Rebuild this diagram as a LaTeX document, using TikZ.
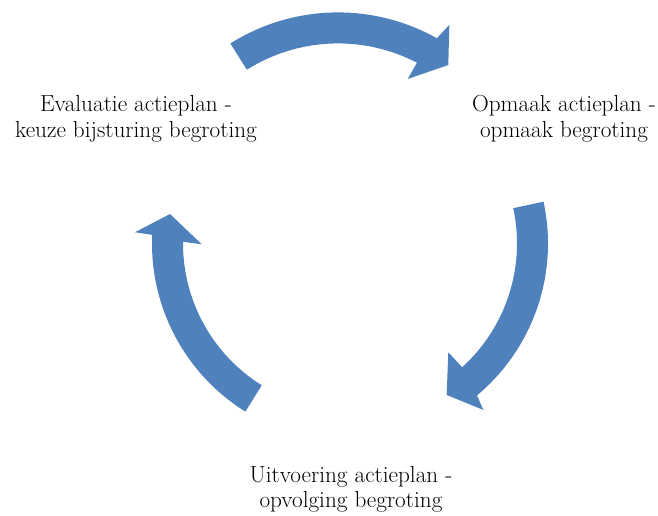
\documentclass[tikz,border=0pt]{standalone}
\usetikzlibrary{calc}
\definecolor{arrowblue}{RGB}{79,129,189}
\begin{document}
\begin{tikzpicture}[x=1pt,y=1pt,
  cyclearrow/.style={fill=arrowblue, draw=none},
  cycletext/.style={align=center, anchor=base, inner sep=0pt, font=\fontsize{23.2}{25.5}\selectfont}]
\useasboundingbox (0,0) rectangle (658,515);
\coordinate (Ct) at (338,300.6);
\coordinate (Cs) at (350,271.5);
% top arrow
\fill[cyclearrow] ($(Ct)+(122.2:202)$) arc[start angle=122.2,end angle=60.7,radius=202]
  -- ($(Ct)+(59.56:219.7)$) -- ($(Ct)+(53.56:185.7)$) -- ($(Ct)+(62.76:152.3)$)
  -- ($(Ct)+(62.5:171)$) arc[start angle=62.5,end angle=122.2,radius=171] -- cycle;
% right arrow
\fill[cyclearrow] ($(Cs)+(12.2:198)$) arc[start angle=12.2,end angle=-50.1,radius=198]
  -- ($(Cs)+(-51.3:213.3)$) -- ($(Cs)+(-57.45:179.7)$) -- ($(Cs)+(-47.9:146.6)$)
  -- ($(Cs)+(-47.8:167)$) arc[start angle=-47.8,end angle=12.2,radius=167] -- cycle;
% left arrow
\fill[cyclearrow] ($(Cs)+(238.1:198)$) arc[start angle=238.1,end angle=177.5,radius=198]
  -- ($(Cs)+(177.0:215.3)$) -- ($(Cs)+(170.7:182.4)$) -- ($(Cs)+(180.3:148.3)$)
  -- ($(Cs)+(179.4:167)$) arc[start angle=179.4,end angle=238.1,radius=167] -- cycle;
% texts (base anchor = baseline of the last line)
\node[cycletext] (eval) at (136,377.5) {Evaluatie actieplan -\\keuze bijsturing begroting};
\node[cycletext] (opmaak) at (564,377.5) {Opmaak actieplan -\\opmaak begroting};
\node[cycletext] (uitv) at (351,7.5) {Uitvoering actieplan -\\opvolging begroting};
\end{tikzpicture}
\end{document}
